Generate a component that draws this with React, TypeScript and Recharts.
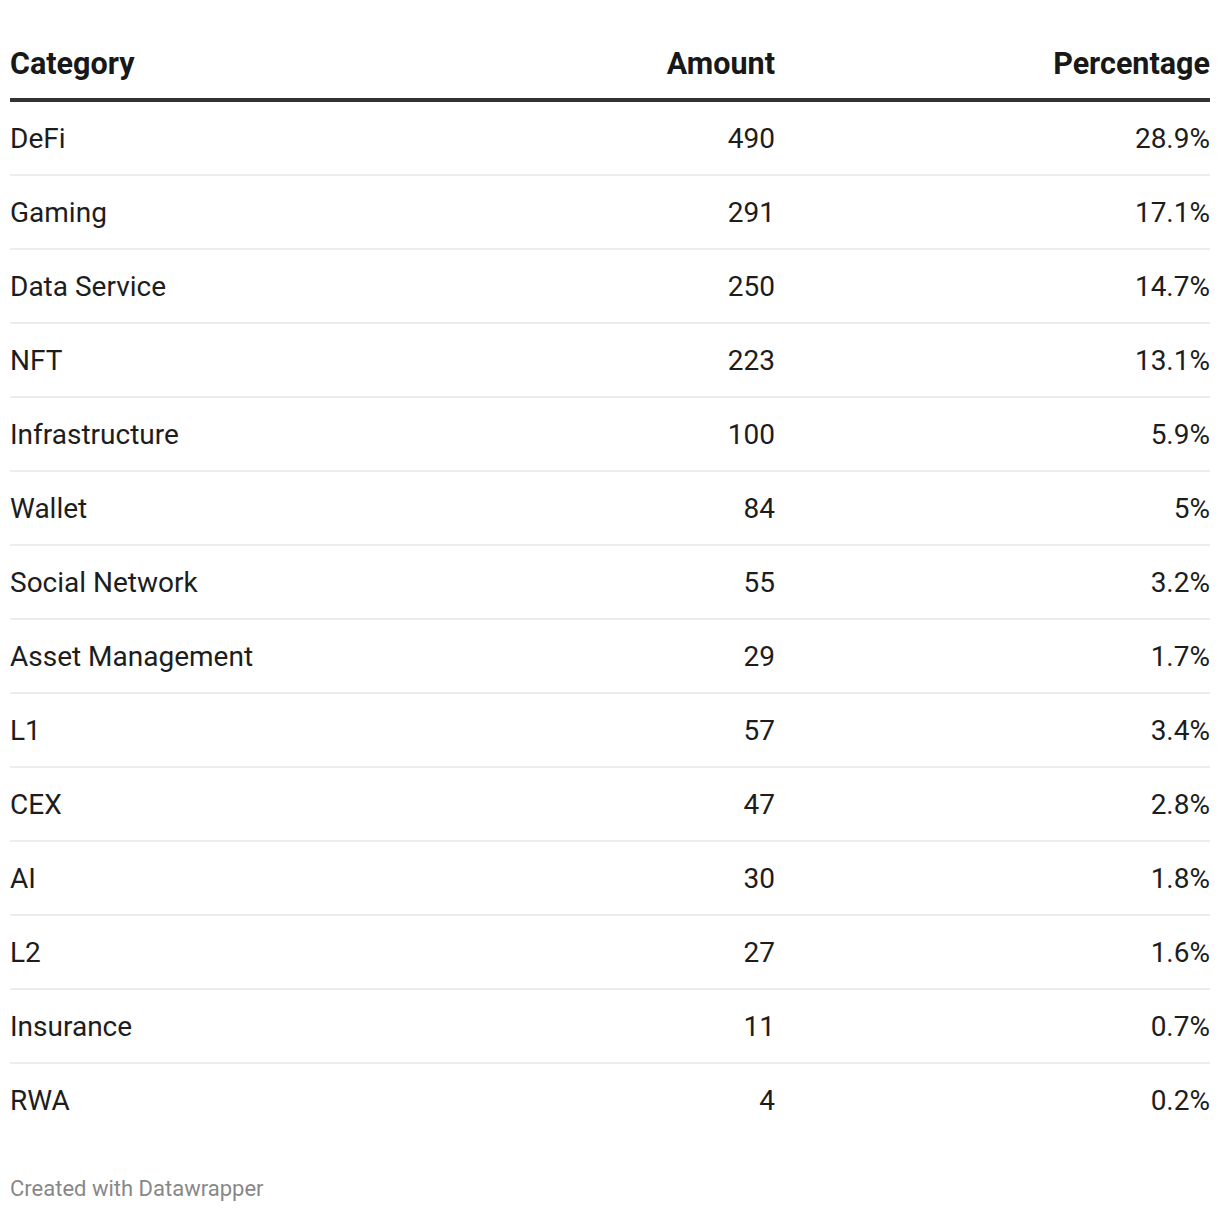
import React from "react";
import { ComposedChart, Bar, XAxis, YAxis, Customized } from "recharts";

const categories = [
  "DeFi", "Gaming", "Data Service", "NFT", "Infrastructure", "Wallet", "Social Network",
  "Asset Management", "L1", "CEX", "AI", "L2", "Insurance", "RWA",
];
const amounts = [490, 291, 250, 223, 100, 84, 55, 29, 57, 47, 30, 27, 11, 4];
const percentages = [28.9, 17.1, 14.7, 13.1, 5.9, 5, 3.2, 1.7, 3.4, 2.8, 1.8, 1.6, 0.7, 0.2];
const headers = ["Category", "Amount", "Percentage"];
const footer = "Created with Datawrapper";

const data = categories.map((c, i) => ({ category: c, amount: amounts[i], percentage: percentages[i] }));

const W = 1220;
const H = 1212;
const LEFT = 10;
const RIGHT = 1210;
const AMOUNT_X = 775;
const FONT = "Roboto, 'Noto Sans', sans-serif";
const TEXT = "#1d1d1d";

const RowShape = (props: any) => {
  const { y, height, payload, index } = props;
  const cy = y + height / 2;
  const bottom = y + height;
  return (
    <g>
      <text x={LEFT} y={cy + 10} fontSize={28} fontFamily={FONT} fill={TEXT} textAnchor="start">
        {payload.category}
      </text>
      <text x={AMOUNT_X} y={cy + 10} fontSize={28} fontFamily={FONT} fill={TEXT} textAnchor="end">
        {payload.amount}
      </text>
      <text x={RIGHT} y={cy + 10} fontSize={28} fontFamily={FONT} fill={TEXT} textAnchor="end">
        {`${payload.percentage}%`}
      </text>
      {index < data.length - 1 && (
        <rect x={LEFT} y={bottom - 1} width={RIGHT - LEFT} height={2} fill="#ededed" />
      )}
    </g>
  );
};

const HS = 30.5;
const HeaderFooter = () => (
  <g>
    <text x={LEFT} y={74} fontSize={HS} fontWeight={700} fontFamily={FONT} fill="#181818" textAnchor="start">
      {headers[0]}
    </text>
    <text x={AMOUNT_X} y={74} fontSize={HS} fontWeight={700} fontFamily={FONT} fill="#181818" textAnchor="end">
      {headers[1]}
    </text>
    <text x={RIGHT} y={74} fontSize={HS} fontWeight={700} fontFamily={FONT} fill="#181818" textAnchor="end">
      {headers[2]}
    </text>
    <rect x={LEFT} y={98} width={RIGHT - LEFT} height={4} fill="#333333" />
    <text x={LEFT} y={1196} fontSize={22} fontFamily={FONT} fill="#888888" textAnchor="start">
      {footer}
    </text>
  </g>
);

export default function App() {
  return (
    <div style={{ position: "absolute", left: 0, top: 0, width: W, height: H, background: "#fff" }}>
      <ComposedChart
        width={W}
        height={H}
        data={data}
        layout="vertical"
        margin={{ top: 101, right: W - RIGHT, bottom: H - 1137, left: LEFT }}
        barCategoryGap={0}
      >
        <XAxis type="number" hide domain={[0, "dataMax"]} />
        <YAxis type="category" dataKey="category" hide width={0} />
        <Bar dataKey="amount" isAnimationActive={false} shape={RowShape} fill="none" />
        <Customized component={HeaderFooter} />
      </ComposedChart>
    </div>
  );
}
